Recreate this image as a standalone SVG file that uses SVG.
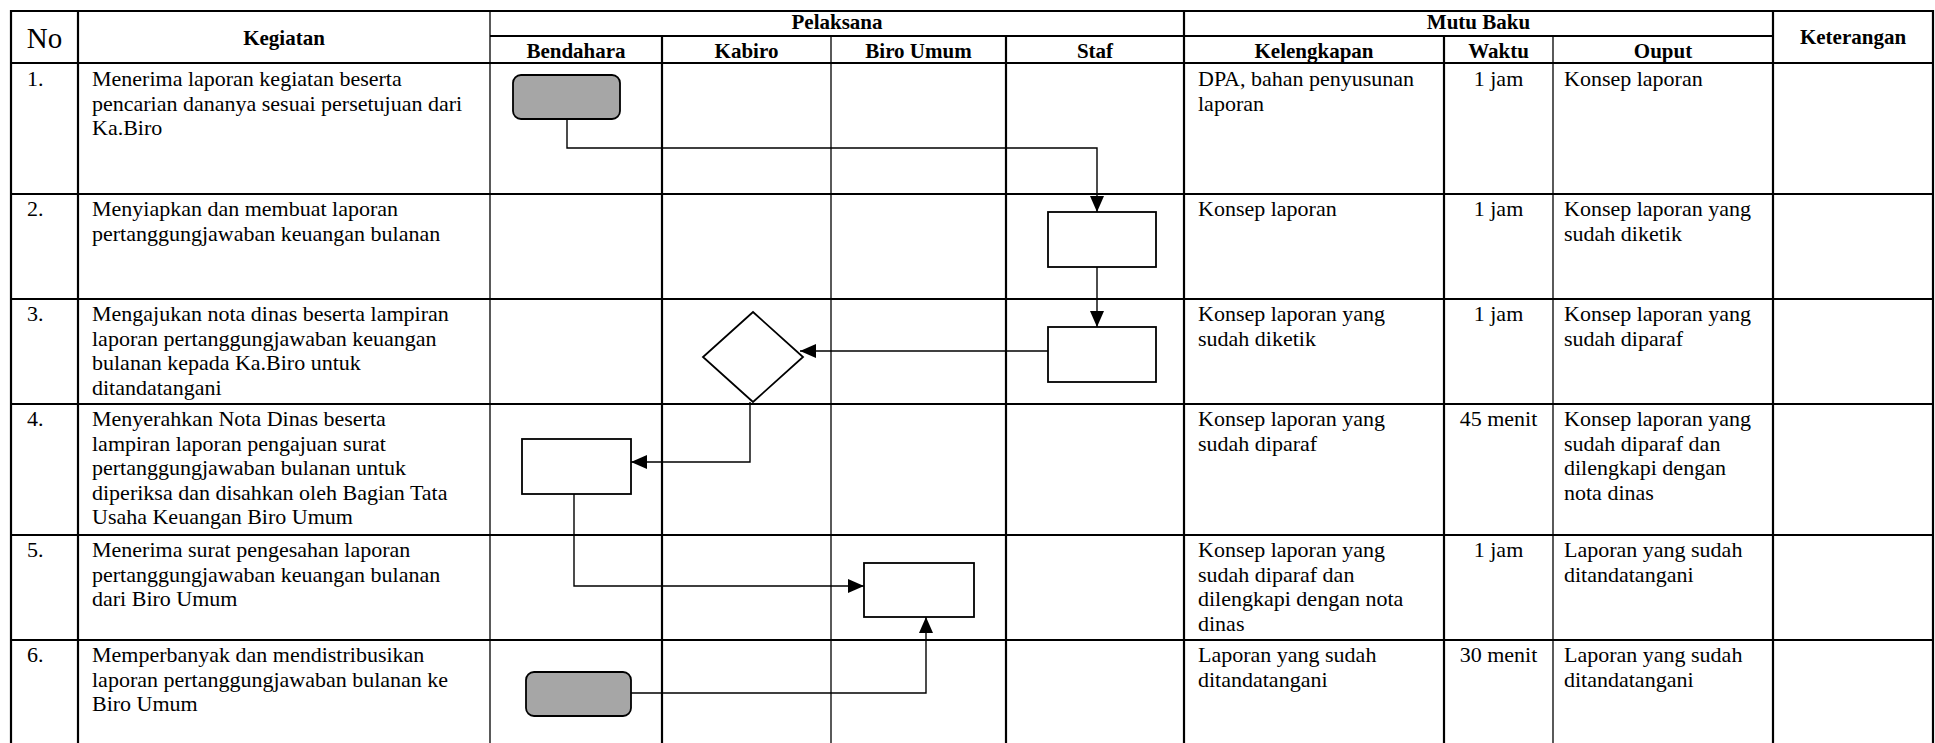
<svg xmlns="http://www.w3.org/2000/svg" width="1935" height="743" viewBox="0 0 1935 743">
  <defs>
    <marker id="arrow" viewBox="0 0 16 14" refX="16" refY="7" markerWidth="16" markerHeight="14" markerUnits="userSpaceOnUse" orient="auto">
      <path d="M0,0 L16,7 L0,14 Z" fill="#000"/>
    </marker>
    <style>
      .thick { stroke: #000; stroke-width: 2.2; }
      .thin { stroke: #000; stroke-width: 1.3; }
      .t { font-family: "Liberation Serif", "Times New Roman", serif; font-size: 22px; fill: #000; }
      .h { font-family: "Liberation Serif", "Times New Roman", serif; font-size: 21px; font-weight: bold; fill: #000; text-anchor: middle; }
      .c { text-anchor: middle; }
      .box { fill: #fff; stroke: #000; stroke-width: 1.8; }
      .term { fill: #a6a6a6; stroke: #000; stroke-width: 1.8; }
      .flow { fill: none; stroke: #000; stroke-width: 1.4; marker-end: url(#arrow); }
    </style>
  </defs>
  <rect width="1935" height="743" fill="#fff"/>

  <!-- table grid -->
  <g id="grid">
    <line class="thick" x1="11" y1="11" x2="1933" y2="11"/>
    <line class="thick" x1="490" y1="36" x2="1773" y2="36"/>
    <line class="thick" x1="11" y1="63" x2="1933" y2="63"/>
    <line class="thick" x1="11" y1="194" x2="1933" y2="194"/>
    <line class="thick" x1="11" y1="299" x2="1933" y2="299"/>
    <line class="thick" x1="11" y1="404" x2="1933" y2="404"/>
    <line class="thick" x1="11" y1="535" x2="1933" y2="535"/>
    <line class="thick" x1="11" y1="640" x2="1933" y2="640"/>

    <line class="thick" x1="11" y1="10" x2="11" y2="743"/>
    <line class="thick" x1="78" y1="10" x2="78" y2="743"/>
    <line class="thin" x1="490" y1="10" x2="490" y2="743"/>
    <line class="thick" x1="662" y1="36" x2="662" y2="743"/>
    <line class="thin" x1="831" y1="36" x2="831" y2="743"/>
    <line class="thick" x1="1006" y1="36" x2="1006" y2="743"/>
    <line class="thick" x1="1184" y1="10" x2="1184" y2="743"/>
    <line class="thick" x1="1444" y1="36" x2="1444" y2="743"/>
    <line class="thin" x1="1553" y1="36" x2="1553" y2="743"/>
    <line class="thick" x1="1773" y1="10" x2="1773" y2="743"/>
    <line class="thick" x1="1933" y1="10" x2="1933" y2="743"/>
  </g>

  <!-- header labels -->
  <g id="header">
    <text class="t c" x="44.5" y="48" style="font-size:29px">No</text>
    <text class="h" x="284" y="45">Kegiatan</text>
    <text class="h" x="837" y="29">Pelaksana</text>
    <text class="h" x="576" y="58">Bendahara</text>
    <text class="h" x="746.5" y="58">Kabiro</text>
    <text class="h" x="918.5" y="58">Biro Umum</text>
    <text class="h" x="1095" y="58">Staf</text>
    <text class="h" x="1478.5" y="29">Mutu Baku</text>
    <text class="h" x="1314" y="58">Kelengkapan</text>
    <text class="h" x="1498.5" y="58">Waktu</text>
    <text class="h" x="1663" y="58">Ouput</text>
    <text class="h" x="1853" y="44">Keterangan</text>
  </g>

  <!-- row texts -->
  <g id="row1">
    <text class="t" x="27" y="86">1.</text>
    <text class="t" x="92" y="86">Menerima laporan kegiatan beserta</text>
    <text class="t" x="92" y="110.5">pencarian dananya sesuai persetujuan dari</text>
    <text class="t" x="92" y="135">Ka.Biro</text>
    <text class="t" x="1198" y="86">DPA, bahan penyusunan</text>
    <text class="t" x="1198" y="110.5">laporan</text>
    <text class="t c" x="1498.5" y="86">1 jam</text>
    <text class="t" x="1564" y="86">Konsep laporan</text>
  </g>
  <g id="row2">
    <text class="t" x="27" y="216">2.</text>
    <text class="t" x="92" y="216">Menyiapkan dan membuat laporan</text>
    <text class="t" x="92" y="240.5">pertanggungjawaban keuangan bulanan</text>
    <text class="t" x="1198" y="216">Konsep laporan</text>
    <text class="t c" x="1498.5" y="216">1 jam</text>
    <text class="t" x="1564" y="216">Konsep laporan yang</text>
    <text class="t" x="1564" y="240.5">sudah diketik</text>
  </g>
  <g id="row3">
    <text class="t" x="27" y="321">3.</text>
    <text class="t" x="92" y="321">Mengajukan nota dinas beserta lampiran</text>
    <text class="t" x="92" y="345.5">laporan pertanggungjawaban keuangan</text>
    <text class="t" x="92" y="370">bulanan kepada Ka.Biro untuk</text>
    <text class="t" x="92" y="394.5">ditandatangani</text>
    <text class="t" x="1198" y="321">Konsep laporan yang</text>
    <text class="t" x="1198" y="345.5">sudah diketik</text>
    <text class="t c" x="1498.5" y="321">1 jam</text>
    <text class="t" x="1564" y="321">Konsep laporan yang</text>
    <text class="t" x="1564" y="345.5">sudah diparaf</text>
  </g>
  <g id="row4">
    <text class="t" x="27" y="426">4.</text>
    <text class="t" x="92" y="426">Menyerahkan Nota Dinas beserta</text>
    <text class="t" x="92" y="450.5">lampiran laporan pengajuan surat</text>
    <text class="t" x="92" y="475">pertanggungjawaban bulanan untuk</text>
    <text class="t" x="92" y="499.5">diperiksa dan disahkan oleh Bagian Tata</text>
    <text class="t" x="92" y="524">Usaha Keuangan Biro Umum</text>
    <text class="t" x="1198" y="426">Konsep laporan yang</text>
    <text class="t" x="1198" y="450.5">sudah diparaf</text>
    <text class="t c" x="1498.5" y="426">45 menit</text>
    <text class="t" x="1564" y="426">Konsep laporan yang</text>
    <text class="t" x="1564" y="450.5">sudah diparaf dan</text>
    <text class="t" x="1564" y="475">dilengkapi dengan</text>
    <text class="t" x="1564" y="499.5">nota dinas</text>
  </g>
  <g id="row5">
    <text class="t" x="27" y="557">5.</text>
    <text class="t" x="92" y="557">Menerima surat pengesahan laporan</text>
    <text class="t" x="92" y="581.5">pertanggungjawaban keuangan bulanan</text>
    <text class="t" x="92" y="606">dari Biro Umum</text>
    <text class="t" x="1198" y="557">Konsep laporan yang</text>
    <text class="t" x="1198" y="581.5">sudah diparaf dan</text>
    <text class="t" x="1198" y="606">dilengkapi dengan nota</text>
    <text class="t" x="1198" y="630.5">dinas</text>
    <text class="t c" x="1498.5" y="557">1 jam</text>
    <text class="t" x="1564" y="557">Laporan yang sudah</text>
    <text class="t" x="1564" y="581.5">ditandatangani</text>
  </g>
  <g id="row6">
    <text class="t" x="27" y="662">6.</text>
    <text class="t" x="92" y="662">Memperbanyak dan mendistribusikan</text>
    <text class="t" x="92" y="686.5">laporan pertanggungjawaban bulanan ke</text>
    <text class="t" x="92" y="711">Biro Umum</text>
    <text class="t" x="1198" y="662">Laporan yang sudah</text>
    <text class="t" x="1198" y="686.5">ditandatangani</text>
    <text class="t c" x="1498.5" y="662">30 menit</text>
    <text class="t" x="1564" y="662">Laporan yang sudah</text>
    <text class="t" x="1564" y="686.5">ditandatangani</text>
  </g>

  <!-- flow connectors -->
  <g id="connectors">
    <polyline class="flow" points="567,119 567,148 1097,148 1097,212"/>
    <polyline class="flow" points="1097,267 1097,327"/>
    <polyline class="flow" points="1048,351 800,351"/>
    <polyline class="flow" points="750,402 750,462 631,462"/>
    <polyline class="flow" points="574,494 574,586 864,586"/>
    <polyline class="flow" points="631,693 926,693 926,617"/>
  </g>

  <!-- flowchart nodes -->
  <g id="start">
    <rect class="term" x="513" y="75" width="107" height="44" rx="8"/>
  </g>
  <g id="prepare">
    <rect class="box" x="1048" y="212" width="108" height="55"/>
  </g>
  <g id="submit">
    <rect class="box" x="1048" y="327" width="108" height="55"/>
  </g>
  <g id="approve">
    <polygon class="box" points="753,312 803,357 753,402 703,357"/>
  </g>
  <g id="handover">
    <rect class="box" x="522" y="439" width="109" height="55"/>
  </g>
  <g id="receive">
    <rect class="box" x="864" y="563" width="110" height="54"/>
  </g>
  <g id="distribute">
    <rect class="term" x="526" y="672" width="105" height="44" rx="8"/>
  </g>
</svg>
